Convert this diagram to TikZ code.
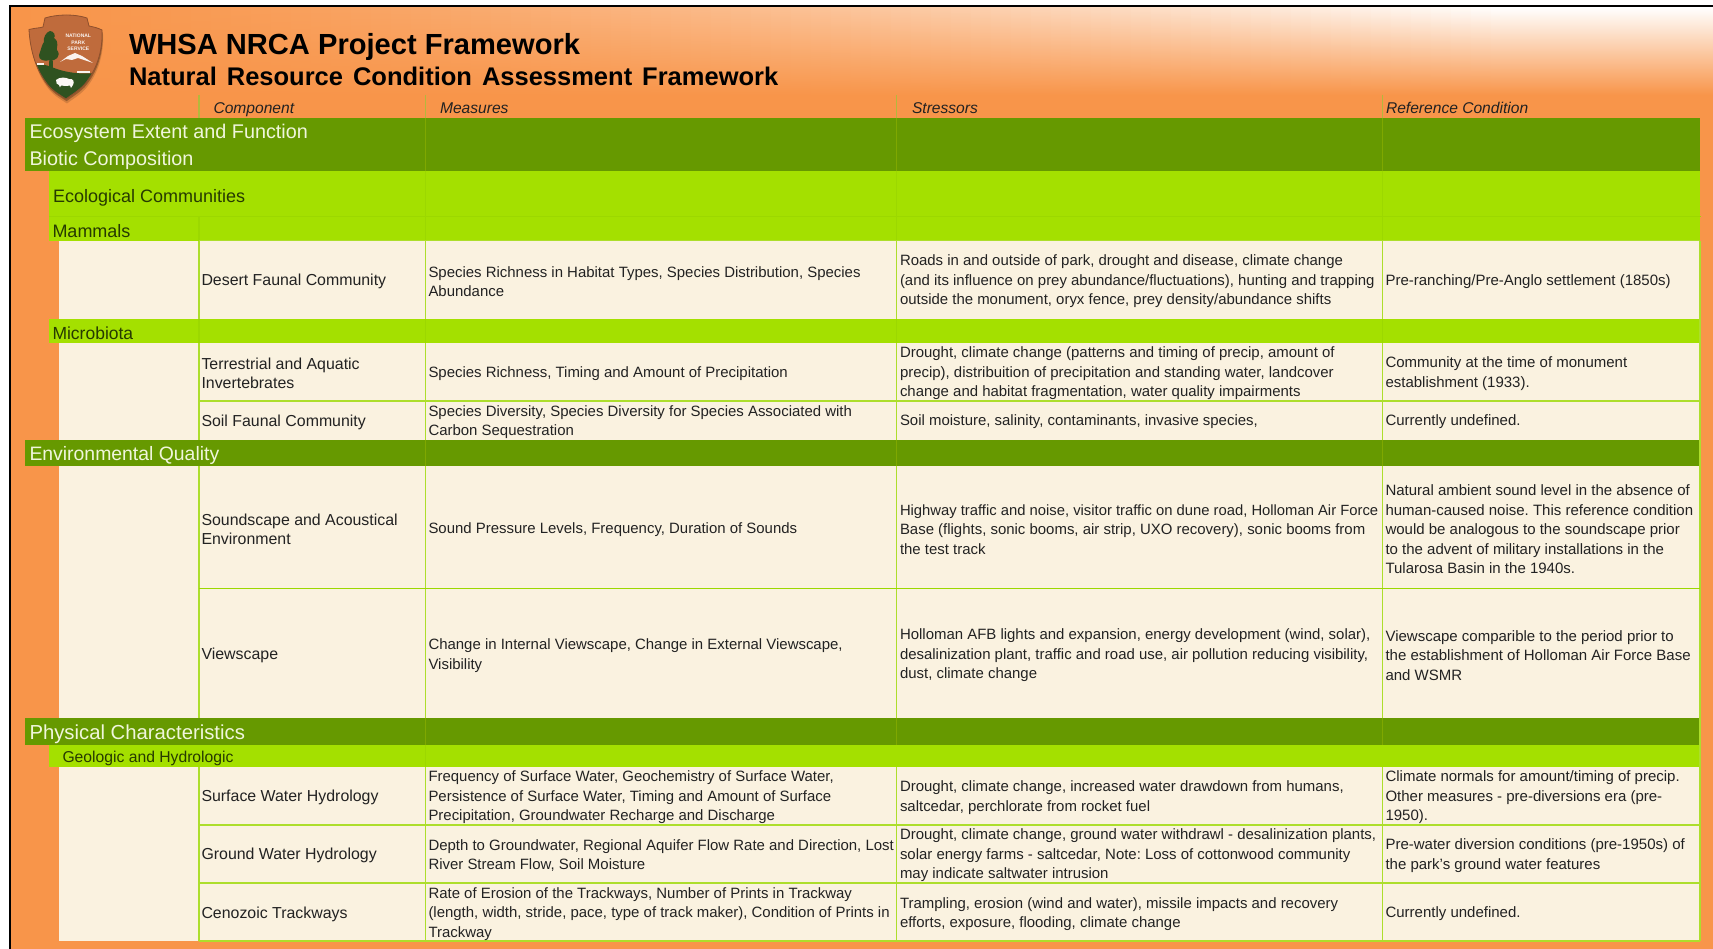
\documentclass[tikz,border=0pt]{standalone}
\usepackage{fontspec}
\setmainfont{Liberation Sans}
\usetikzlibrary{calc}
\definecolor{bgorange}{HTML}{F8954A}
\definecolor{dkgreen}{HTML}{669900}
\definecolor{lime}{HTML}{A4E000}
\definecolor{cream}{HTML}{FAF2E0}
\definecolor{rule}{HTML}{ADDE2C}
\definecolor{rulelime}{HTML}{9CD800}
\definecolor{ruledk}{HTML}{7FA800}
\definecolor{ruleorange}{HTML}{B4B83C}
\definecolor{cellink}{HTML}{222222}
\definecolor{limeink}{HTML}{263A00}
\definecolor{dkink}{HTML}{F0F6DC}
\definecolor{brownlogo}{HTML}{BF6B3C}
\definecolor{greenlogo}{HTML}{2F5220}
\tikzset{
  x=1pt,y=-1pt,
  every node/.style={inner sep=0pt,outer sep=0pt},
  celltext/.style={anchor=west,align=left,yshift=-1.5pt,text=cellink,font=\fontsize{14.95}{19.55}\selectfont\frenchspacing},
  comptext/.style={celltext,font=\fontsize{15.9}{19.55}\selectfont\frenchspacing},
  reftext/.style={celltext,font=\fontsize{15}{19.55}\selectfont\frenchspacing},
  headtext/.style={anchor=base west,text=cellink,font=\fontsize{15.6}{18}\itshape\selectfont},
  dktext/.style={anchor=west,align=left,yshift=-2pt,text=dkink,font=\fontsize{19.8}{26}\selectfont},
  limetext/.style={anchor=west,yshift=-2pt,text=limeink,font=\fontsize{18}{22}\selectfont},
  logotext/.style={text=white!92!brownlogo,font=\fontsize{5}{6}\bfseries\selectfont},
  vrule/.style={line width=1.7pt},
  hrule/.style={rule,line width=1.7pt},
  shieldpath/.style={insert path={(29,29.5) .. controls (35,28) and (40,28) .. (43,27) -- (45,18) .. controls (58,14) and (75,14) .. (87,18) -- (89,26) .. controls (94,27) and (98,28) .. (102,30) .. controls (103,50) and (97,70) .. (84,85) .. controls (77,92) and (71,95) .. (66,99) .. controls (60,95) and (54,92) .. (48,85) .. controls (36,70) and (30,50) .. (29,29.5) -- cycle}}
}
\newcommand{\cellC}[3]{\node[comptext] (#1) at (201.5,#2) {#3};}
\newcommand{\cellM}[3]{\node[celltext] (#1) at (428.5,#2) {#3};}
\newcommand{\cellS}[3]{\node[celltext] (#1) at (900,#2) {#3};}
\newcommand{\cellR}[3]{\node[reftext] (#1) at (1385.5,#2) {#3};}
\begin{document}
\begin{tikzpicture}
\useasboundingbox (0,0) rectangle (1713,949);
\fill[white] (0,0) rectangle (1713,949);
\fill[bgorange] (11,7) rectangle (1713,949);
% header gradient
\foreach \x in {11,31,...,1711}{
  \pgfmathsetmacro\w{min(100,100*((\x+10)/1500)^1.4)}
  \colorlet{stripc}{white!\w!bgorange}
  \shade[top color=stripc,bottom color=bgorange] (\x,7) rectangle (\x+21,95);
}
% frame
\fill[black] (9,5) rectangle (1713,7.2);
\fill[black] (9,5) rectangle (11,949);
% bands and cream cells
\fill[cream] (58.5,241) rectangle (1700,941);
\fill[dkgreen] (24.5,118) rectangle (1700,171.5);
\fill[lime] (49,171.5) rectangle (1700,241);
\fill[lime] (49,319) rectangle (1700,342.7);
\fill[dkgreen] (24.5,439.5) rectangle (1700,466);
\fill[dkgreen] (24.5,718.3) rectangle (1700,745);
\fill[lime] (49,745) rectangle (1700,766.5);
% column rules
\foreach \cx in {199,425.5,896.5,1382.5}{
  \draw[vrule,ruleorange] (\cx,95) -- (\cx,118);
  \draw[vrule,rulelime] (\cx,319) -- (\cx,342.7);
  \draw[vrule,rule] (\cx,241) -- (\cx,319);
  \draw[vrule,rule] (\cx,342.7) -- (\cx,439.5);
  \draw[vrule,rule] (\cx,466) -- (\cx,718.3);
  \draw[vrule,rule] (\cx,766.5) -- (\cx,941);
}
\draw[vrule,rulelime] (199,217) -- (199,241);
\foreach \cx in {425.5,896.5,1382.5}{
  \draw[vrule,ruledk] (\cx,118) -- (\cx,171.5);
  \draw[vrule,rulelime] (\cx,171.5) -- (\cx,241);
  \draw[vrule,ruledk] (\cx,439.5) -- (\cx,466);
  \draw[vrule,ruledk] (\cx,718.3) -- (\cx,745);
}
\draw[vrule,rulelime] (425.5,745) -- (425.5,766.5);
\draw[vrule,rule] (1700,241) -- (1700,941);
% row rules
\draw[rulelime,line width=1pt] (49,217) -- (1701,217);
\draw[rule,line width=1pt] (199,241) -- (1700,241);
\draw[hrule] (199,400.7) -- (1700,400.7);
\draw[rulelime,line width=1.2pt] (199,588.3) -- (1700,588.3);
\draw[hrule] (199,825) -- (1700,825);
\draw[hrule] (199,883.3) -- (1700,883.3);
\draw[hrule] (199,941) -- (1700,941);
% logo
\begin{scope}
\fill[black,opacity=.14,shift={(1,4.5)},shieldpath];
\fill[black,opacity=.28,shift={(.6,2.2)},shieldpath];
\fill[brownlogo,shieldpath];
\begin{scope}
\clip[shieldpath];
\path[fill=greenlogo] (25,64) .. controls (45,62) and (52,68) .. (60,70) .. controls (70,73) and (85,75) .. (105,72) -- (105,105) -- (25,105) -- cycle;
\end{scope}
\draw[brownlogo!75!black,line width=.8pt,shieldpath];
% tree
\fill[greenlogo] (49,70) -- (50,35) -- (52,35) -- (53,70) -- cycle;
\fill[greenlogo] (50,31) .. controls (54,31) and (56,36) .. (54,38) .. controls (60,42) and (56,48) .. (57,50) .. controls (62,56) and (55,62) .. (50,60) .. controls (45,62) and (38,60) .. (39,55) .. controls (41,50) and (42,44) .. (44,42) .. controls (43,38) and (46,32) .. (50,31) -- cycle;
% mountain
\fill[white!92!brownlogo] (60,62) -- (68,56) -- (75,53) -- (82,56) -- (93,63) -- (84,60) -- (78,58) -- (72,60) -- (66,59) -- cycle;
% stream
\fill[white!92!brownlogo] (77,71.5) rectangle (90,73.5);
\fill[white!92!brownlogo] (37,63) rectangle (44,65);
% bison
\fill[white!95!brownlogo] (56,80) .. controls (59,77) and (66,77) .. (69,79) .. controls (73,78) and (75,82) .. (73,85) -- (71,88) -- (70,85.5) .. controls (66,86.5) and (62,85.5) .. (61,85.5) -- (60,87.5) -- (59,85) .. controls (57,85) and (56,83) .. (56,80) -- cycle;
\node[logotext] (logoA) at (78.3,36) {NATIONAL};
\node[logotext] (logoB) at (78.3,42.3) {PARK};
\node[logotext] (logoC) at (78.3,48.6) {SERVICE};
\end{scope}
% title
\node[anchor=base west,text=black,font=\fontsize{29.1}{32}\bfseries\selectfont] (title) at (129,55) {WHSA NRCA Project Framework};
\node[anchor=base west,text=black,font=\fontsize{25.5}{28}\bfseries\selectfont] (subtitle) at (129,86) {\spaceskip=10pt Natural Resource Condition Assessment Framework};
% column heads
\node[headtext] (hC) at (213.5,114) {Component};
\node[headtext] (hM) at (440,114) {Measures};
\node[headtext] (hS) at (912,114) {Stressors};
\node[headtext] (hR) at (1386,114) {Reference Condition};
% band labels
\node[dktext] (ecos) at (29.5,131.5) {Ecosystem Extent and Function};
\node[dktext] (biot) at (29.5,158) {Biotic Composition};
\node[limetext] (ecol) at (53,195.5) {Ecological Communities};
\node[limetext,yshift=1.5pt] (mamm) at (52.5,231) {Mammals};
\node[limetext,font=\fontsize{17.5}{22}\selectfont] (micr) at (52.5,331.5) {Microbiota};
\node[dktext,font=\fontsize{19.4}{26}\selectfont] (envq) at (29.5,453) {Environmental Quality};
\node[dktext,font=\fontsize{20.3}{26}\selectfont] (phys) at (29.5,732) {Physical Characteristics};
\node[limetext,font=\fontsize{15.7}{20}\selectfont] (geol) at (62.5,756.5) {Geologic and Hydrologic};
% rows
\cellC{c1}{280}{Desert Faunal Community}
\cellM{m1}{280}{Species Richness in Habitat Types, Species Distribution, Species\\Abundance}
\cellS{s1}{280}{Roads in and outside of park, drought and disease, climate change\\(and its influence on prey abundance/fluctuations), hunting and trapping\\outside the monument, oryx fence, prey density/abundance shifts}
\cellR{r1}{280}{Pre-ranching/Pre-Anglo settlement (1850s)}
\cellC{c2}{372}{Terrestrial and Aquatic\\Invertebrates}
\cellM{m2}{372}{Species Richness, Timing and Amount of Precipitation}
\cellS{s2}{372}{Drought, climate change (patterns and timing of precip, amount of\\precip), distribuition of precipitation and standing water, landcover\\change and habitat fragmentation, water quality impairments}
\cellR{r2}{372}{Community at the time of monument\\establishment (1933).}
\cellC{c3}{420.5}{Soil Faunal Community}
\cellM{m3}{420.5}{Species Diversity, Species Diversity for Species Associated with\\Carbon Sequestration}
\cellS{s3}{420.5}{Soil moisture, salinity, contaminants, invasive species,}
\cellR{r3}{420.5}{Currently undefined.}
\cellC{c4}{528}{Soundscape and Acoustical\\Environment}
\cellM{m4}{528}{Sound Pressure Levels, Frequency, Duration of Sounds}
\cellS{s4}{528}{\fontsize{14.8}{19.55}\selectfont Highway traffic and noise, visitor traffic on dune road, Holloman Air Force\\Base (flights, sonic booms, air strip, UXO recovery), sonic booms from\\the test track}
\cellR{r4}{528}{Natural ambient sound level in the absence of\\human-caused noise. This reference condition\\would be analogous to the soundscape prior\\to the advent of military installations in the\\Tularosa Basin in the 1940s.}
\cellC{c5}{654}{Viewscape}
\cellM{m5}{654}{Change in Internal Viewscape, Change in External Viewscape,\\Visibility}
\cellS{s5}{654}{Holloman AFB lights and expansion, energy development (wind, solar),\\desalinization plant, traffic and road use, air pollution reducing visibility,\\dust, climate change}
\cellR{r5}{654}{Viewscape comparible to the period prior to\\the establishment of Holloman Air Force Base\\and WSMR}
\cellC{c6}{796}{Surface Water Hydrology}
\cellM{m6}{796}{Frequency of Surface Water, Geochemistry of Surface Water,\\Persistence of Surface Water, Timing and Amount of Surface\\Precipitation, Groundwater Recharge and Discharge}
\cellS{s6}{796}{Drought, climate change, increased water drawdown from humans,\\saltcedar, perchlorate from rocket fuel}
\cellR{r6}{796}{Climate normals for amount/timing of precip.\\Other measures - pre-diversions era (pre-\\1950).}
\cellC{c7}{854}{Ground Water Hydrology}
\cellM{m7}{854}{Depth to Groundwater, Regional Aquifer Flow Rate and Direction, Lost\\River Stream Flow, Soil Moisture}
\cellS{s7}{854}{Drought, climate change, ground water withdrawl - desalinization plants,\\solar energy farms - saltcedar, Note: Loss of cottonwood community\\may indicate saltwater intrusion}
\cellR{r7}{854}{Pre-water diversion conditions (pre-1950s) of\\the park's ground water features}
\cellC{c8}{912.5}{Cenozoic Trackways}
\cellM{m8}{912.5}{Rate of Erosion of the Trackways, Number of Prints in Trackway\\(length, width, stride, pace, type of track maker), Condition of Prints in\\Trackway}
\cellS{s8}{912.5}{Trampling, erosion (wind and water), missile impacts and recovery\\efforts, exposure, flooding, climate change}
\cellR{r8}{912.5}{Currently undefined.}
\end{tikzpicture}
\end{document}
